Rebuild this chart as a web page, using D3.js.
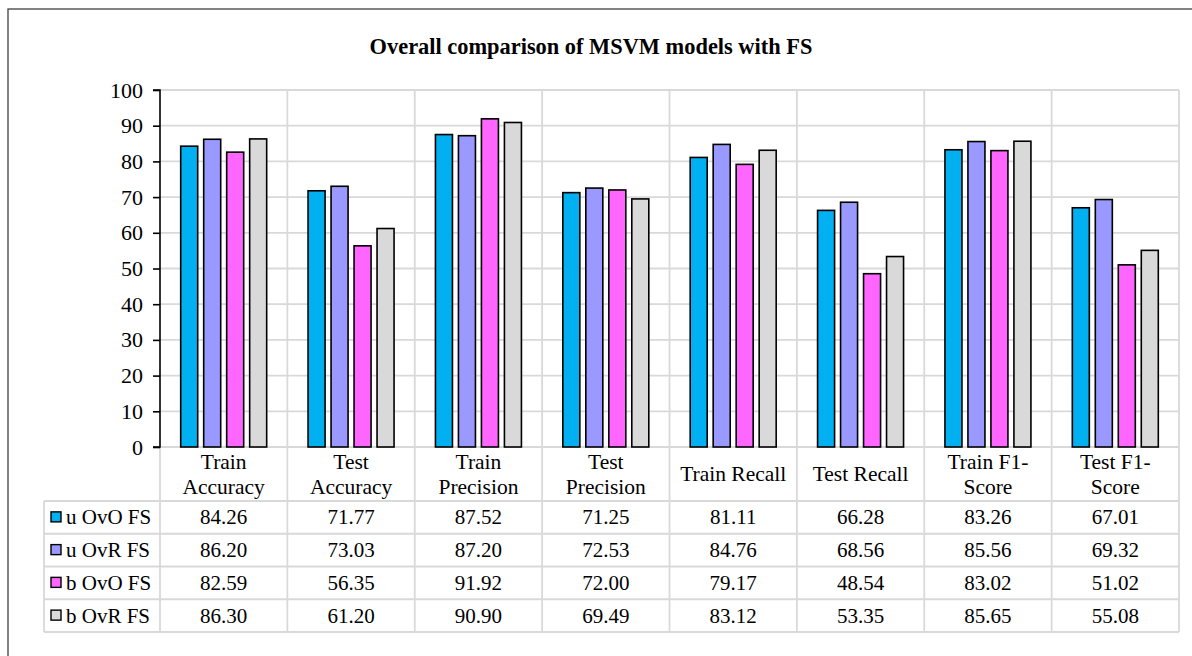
<!DOCTYPE html>
<html>
<head>
<meta charset="utf-8">
<script src="https://cdn.jsdelivr.net/npm/d3@7"></script>
<style>
  html, body { margin: 0; padding: 0; background: #fff; }
  svg { display: block; font-family: "Liberation Serif", "Times New Roman", serif; }
</style>
</head>
<body>
<svg id="chart" width="1192" height="656"></svg>
<script>
// Metrics shown along the x axis (header row of the data table)
const categories = [
  ["Train", "Accuracy"], ["Test", "Accuracy"], ["Train", "Precision"], ["Test", "Precision"],
  ["Train Recall"], ["Test Recall"], ["Train F1-", "Score"], ["Test F1-", "Score"]
];
const seriesNames = ["u OvO FS", "u OvR FS", "b OvO FS", "b OvR FS"];
const seriesColors = ["#00b0f0", "#9999ff", "#ff66ff", "#d9d9d9"];

const uOvO = [84.26, 71.77, 87.52, 71.25, 81.11, 66.28, 83.26, 67.01];
const uOvR = [86.20, 73.03, 87.20, 72.53, 84.76, 68.56, 85.56, 69.32];
const bOvO = [82.59, 56.35, 91.92, 72.00, 79.17, 48.54, 83.02, 51.02];
const bOvR = [86.30, 61.20, 90.90, 69.49, 83.12, 53.35, 85.65, 55.08];
const seriesValues = [uOvO, uOvR, bOvO, bOvR];

const yTicks = [0, 10, 20, 30, 40, 50, 60, 70, 80, 90, 100];

const svg = d3.select("#chart");
const grid = "#d9d9d9";
const serif = "Liberation Serif, Times New Roman, serif";

// Layout
const plot = { left: 160, right: 1179, top: 90, bottom: 447 };
const tableLeft = 44;
const headerBottom = 501;
const rowH = 32.75;
const tableFont = 21;

// Outer chart frame
svg.append("rect")
  .attr("x", 8).attr("y", 9).attr("width", 1300).attr("height", 800)
  .attr("fill", "none").attr("stroke", "#404040").attr("stroke-width", 1.3);

// Title
svg.append("text")
  .attr("x", 591).attr("y", 54)
  .attr("text-anchor", "middle")
  .attr("font-weight", "bold").attr("font-size", 22.4)
  .text("Overall comparison of MSVM models with FS");

const keys = d3.range(categories.length);
const x0 = d3.scaleBand().domain(keys).range([plot.left, plot.right]).padding(0);
const x1 = d3.scaleBand().domain(d3.range(seriesNames.length))
  .range([0, x0.bandwidth()]).paddingInner(0.26).paddingOuter(0.9);
const y = d3.scaleLinear().domain([0, 100]).range([plot.bottom, plot.top]);

// Horizontal gridlines
svg.append("g").selectAll("line").data(yTicks.filter(d => d > 0)).join("line")
  .attr("x1", plot.left).attr("x2", plot.right)
  .attr("y1", d => y(d)).attr("y2", d => y(d))
  .attr("stroke", grid).attr("stroke-width", 1.8);

// Vertical category dividers (through plot and table)
const tableBottom = headerBottom + rowH * seriesNames.length;
svg.append("g").selectAll("line").data(keys.slice(1).concat([keys.length])).join("line")
  .attr("x1", d => d < keys.length ? x0(d) : plot.right)
  .attr("x2", d => d < keys.length ? x0(d) : plot.right)
  .attr("y1", plot.top).attr("y2", tableBottom)
  .attr("stroke", grid).attr("stroke-width", 1.8);

// Table horizontal lines
const hLines = [plot.bottom].concat(d3.range(seriesNames.length + 1).map(i => headerBottom + i * rowH));
svg.append("g").selectAll("line").data(hLines).join("line")
  .attr("x1", (d, i) => i === 0 ? plot.left : tableLeft)
  .attr("x2", plot.right)
  .attr("y1", d => d).attr("y2", d => d)
  .attr("stroke", grid).attr("stroke-width", 1.8);
// Table left edges
svg.append("line").attr("x1", tableLeft).attr("x2", tableLeft)
  .attr("y1", headerBottom).attr("y2", tableBottom)
  .attr("stroke", grid).attr("stroke-width", 1.8);
svg.append("line").attr("x1", plot.left).attr("x2", plot.left)
  .attr("y1", plot.bottom).attr("y2", tableBottom)
  .attr("stroke", grid).attr("stroke-width", 1.8);

// Bars
const groups = svg.append("g").selectAll("g").data(seriesValues).join("g")
  .attr("fill", (d, i) => seriesColors[i]);
groups.each(function(vals, si) {
  d3.select(this).selectAll("rect").data(vals).join("rect")
    .attr("x", (v, ci) => x0(ci) + x1(si))
    .attr("width", x1.bandwidth())
    .attr("y", v => y(v))
    .attr("height", v => y(0) - y(v))
    .attr("stroke", "#000").attr("stroke-width", 1.6);
});

// Y axis
const yAxis = d3.axisLeft(y).tickValues(yTicks).tickSize(7).tickPadding(10).tickFormat(d3.format("d"));
const ga = svg.append("g").attr("transform", `translate(${plot.left},0)`).call(yAxis)
  .attr("font-family", serif).attr("font-size", 22);
ga.select(".domain").attr("stroke", "#000").attr("stroke-width", 1.6).attr("d", `M-7,${plot.top}H0V${plot.bottom}H-7`);
ga.selectAll(".tick line").attr("stroke", "#000").attr("stroke-width", 1.6);
ga.selectAll(".tick text").attr("fill", "#000");

// Header row: category names
const header = svg.append("g").selectAll("text").data(categories).join("text")
  .attr("text-anchor", "middle").attr("font-size", 21.5)
  .attr("x", (d, i) => x0(i) + x0.bandwidth() / 2);
header.each(function(lines) {
  const t = d3.select(this);
  const midY = (plot.bottom + headerBottom) / 2;
  const lh = 25;
  lines.forEach((ln, k) => {
    t.append("tspan")
      .attr("x", t.attr("x"))
      .attr("y", midY + (k - (lines.length - 1) / 2) * lh + 7)
      .text(ln);
  });
});

// Data rows: legend key, series name, values
seriesNames.forEach((name, si) => {
  const cy = headerBottom + si * rowH + rowH / 2;
  svg.append("rect")
    .attr("x", 51).attr("y", cy - 5.5).attr("width", 10).attr("height", 10)
    .attr("fill", seriesColors[si]).attr("stroke", "#000").attr("stroke-width", 1.4);
  svg.append("text")
    .attr("x", 66).attr("y", cy + 7).attr("font-size", tableFont)
    .text(name);
  svg.append("g").selectAll("text").data(seriesValues[si]).join("text")
    .attr("x", (v, ci) => x0(ci) + x0.bandwidth() / 2)
    .attr("y", cy + 7)
    .attr("text-anchor", "middle").attr("font-size", tableFont)
    .text(v => v.toFixed(2));
});
</script>
</body>
</html>
